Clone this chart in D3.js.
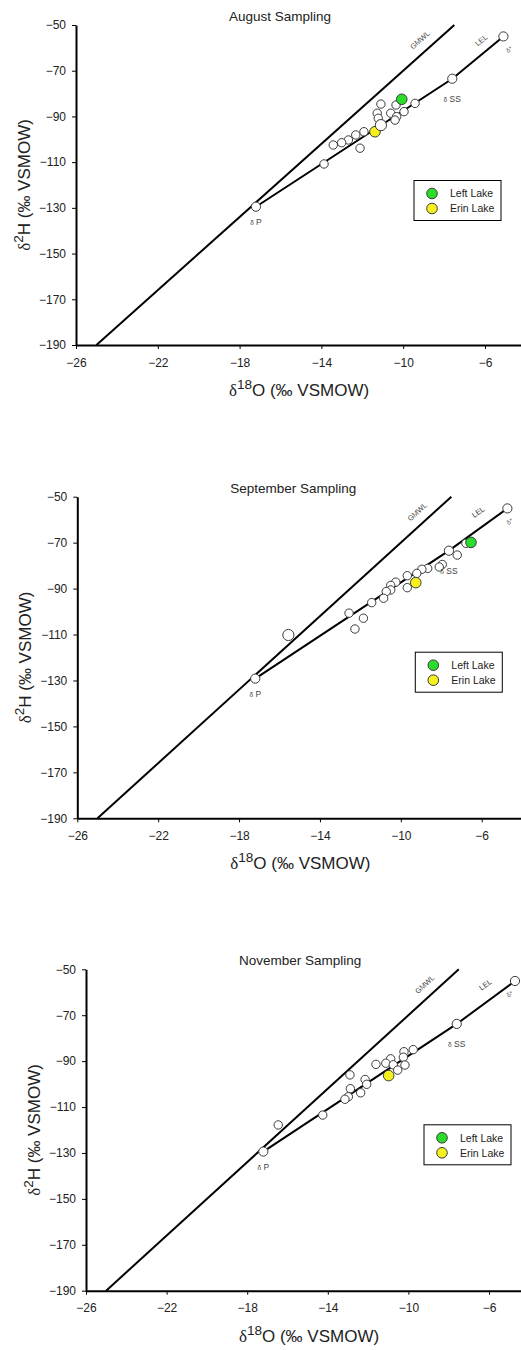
<!DOCTYPE html>
<html>
<head>
<meta charset="utf-8">
<script src="https://cdn.jsdelivr.net/npm/d3@7"></script>
<style>
  body { margin: 0; background: #fff; }
  svg { display: block; font-family: Arial, "Liberation Sans", sans-serif; }
</style>
</head>
<body>
<div id="chart"></div>
<script>
// all pairs are [δ18O, δ2H] in ‰ VSMOW
const xTicks = [-26, -22, -18, -14, -10, -6];
const yTicks = [-50, -70, -90, -110, -130, -150, -170, -190];
const xDomain = [-26, -4];
const yDomain = [-190, -50];

// global meteoric water line δ2H = 8 δ18O + 10
const gmwlSlope = 8;
const gmwlIntercept = 10;
const gmwlRange = [-25, -7.5];

const titles = ["August Sampling", "September Sampling", "November Sampling"];
const legendNames = ["Left Lake", "Erin Lake"];
const legendColors = ["#2bdc2b", "#f5f01e"];

const augSamples = [[-11.09, -84.6], [-9.42, -84.3], [-10.35, -85.0], [-9.96, -87.9], [-11.27, -88.6],
  [-10.61, -88.6], [-10.32, -90.1], [-11.22, -90.8], [-10.40, -91.6], [-11.92, -96.7], [-12.32, -98.1],
  [-12.68, -100.3], [-13.01, -101.5], [-13.42, -102.5], [-12.11, -103.9], [-13.87, -110.8]];
const augLarge = [[-11.09, -93.8]];
const augLeftLake = [[-10.07, -82.5]];
const augErinLake = [[-11.38, -96.7]];
const augEnds = { P: [-17.2, -129.5], SS: [-7.6, -73.5], star: [-5.1, -55.0] };

const sepSamples = [[-6.78, -70.3], [-7.21, -75.4], [-7.95, -79.5], [-8.10, -80.6], [-8.67, -81.2],
  [-8.96, -81.6], [-9.21, -83.4], [-9.68, -84.4], [-9.68, -89.6], [-10.25, -87.2], [-10.50, -88.6],
  [-10.50, -90.6], [-10.72, -91.3], [-10.85, -94.2], [-11.44, -96.1], [-12.56, -100.7], [-11.85, -102.9],
  [-12.27, -107.6]];
const sepLarge = [[-15.56, -110.2]];
const sepLeftLake = [[-6.53, -69.9]];
const sepErinLake = [[-9.26, -87.4]];
const sepEnds = { P: [-17.2, -129.2], SS: [-7.62, -73.5], star: [-4.73, -55.1] };

const novSamples = [[-9.76, -85.0], [-10.22, -85.9], [-10.25, -88.3], [-10.88, -89.0], [-11.12, -90.9],
  [-11.61, -91.4], [-10.75, -91.6], [-10.17, -91.7], [-10.53, -93.9], [-12.90, -96.0], [-12.15, -98.0],
  [-12.07, -100.1], [-12.88, -102.0], [-12.37, -103.8], [-12.98, -105.5], [-13.15, -106.6],
  [-14.25, -113.5], [-16.46, -117.8]];
const novLarge = [];
const novLeftLake = [];
const novErinLake = [[-10.98, -96.3]];
const novEnds = { P: [-17.2, -129.4], SS: [-7.6, -73.8], star: [-4.71, -55.1] };

// text anchors for the line labels (data coords)
const gmwlLabelAt = [-9.1, -57.4];
const lelLabelAt = [-6.1, -57.6];

const panels = [
  { title: titles[0], samples: augSamples, large: augLarge, left: augLeftLake, erin: augErinLake, ends: augEnds },
  { title: titles[1], samples: sepSamples, large: sepLarge, left: sepLeftLake, erin: sepErinLake, ends: sepEnds },
  { title: titles[2], samples: novSamples, large: novLarge, left: novLeftLake, erin: novErinLake, ends: novEnds }
];

// pixel frame of each panel
const layout = [
  { top: 25, bottom: 345, left: 76, unit: 20.45 },
  { top: 496.7, bottom: 818.3, left: 77.3, unit: 20.22 },
  { top: 969.3, bottom: 1290.7, left: 86, unit: 20.15 }
];

const width = 521, height = 1350;
const svg = d3.select("#chart").append("svg")
  .attr("width", width)
  .attr("height", height);

const lineGen = (x, y) => d3.line().x(d => x(d[0])).y(d => y(d[1]));

function isoLabel(sel, sup, letter) {
  sel.append("tspan").attr("font-family", "'Liberation Serif', 'DejaVu Serif', serif").text("δ");
  sel.append("tspan").attr("font-size", "0.8em").attr("dy", -7).text(sup);
  sel.append("tspan").attr("dy", 7).text(letter + " (‰ VSMOW)");
}

panels.forEach((p, i) => {
  const L = layout[i];
  const g = svg.append("g");

  const x = d3.scaleLinear()
    .domain(xDomain)
    .range([L.left, L.left + (xDomain[1] - xDomain[0]) * L.unit]);
  const y = d3.scaleLinear()
    .domain(yDomain)
    .range([L.bottom, L.top]);

  // axes
  const xAxis = g.append("g")
    .attr("transform", `translate(0,${L.bottom})`)
    .call(d3.axisBottom(x).tickValues(xTicks).tickSize(4).tickSizeOuter(0).tickPadding(9));
  const yAxis = g.append("g")
    .attr("transform", `translate(${L.left},0)`)
    .call(d3.axisLeft(y).tickValues(yTicks).tickSize(4).tickSizeOuter(0).tickPadding(6));
  [xAxis, yAxis].forEach(a => {
    a.select(".domain").attr("stroke", "#000").attr("stroke-width", 2);
    a.selectAll(".tick line").attr("stroke", "#000").attr("stroke-width", 1);
    a.selectAll(".tick text").attr("fill", "#222").style("font-size", "12px")
      .style("font-family", "Arial, 'Liberation Sans', sans-serif");
  });

  // title
  g.append("text")
    .attr("x", L.left + 153)
    .attr("y", L.top - 4)
    .attr("fill", "#222")
    .style("font-size", "13.5px")
    .text(p.title);

  // axis titles
  const xl = g.append("text")
    .attr("x", L.left + 223)
    .attr("y", L.bottom + 51)
    .attr("text-anchor", "middle")
    .attr("fill", "#222")
    .style("font-size", "17px");
  isoLabel(xl, "18", "O");

  const yl = g.append("text")
    .attr("transform", `translate(${L.left - 46},${(L.top + L.bottom) / 2}) rotate(-90)`)
    .attr("text-anchor", "middle")
    .attr("fill", "#222")
    .style("font-size", "17px");
  isoLabel(yl, "2", "H");

  // GMWL
  const gmwl = gmwlRange.map(v => [v, gmwlSlope * v + gmwlIntercept]);
  g.append("path")
    .datum(gmwl)
    .attr("fill", "none")
    .attr("stroke", "#000")
    .attr("stroke-width", 2)
    .attr("d", lineGen(x, y));

  // LEL through δP, δSS, δ*
  const lel = [p.ends.P, p.ends.SS, p.ends.star];
  g.append("path")
    .datum(lel)
    .attr("fill", "none")
    .attr("stroke", "#000")
    .attr("stroke-width", 2)
    .attr("d", lineGen(x, y));

  const angle = (a, b) => Math.atan2(y(b[1]) - y(a[1]), x(b[0]) - x(a[0])) * 180 / Math.PI;
  g.append("text")
    .attr("transform", `translate(${x(gmwlLabelAt[0])},${y(gmwlLabelAt[1])}) rotate(${angle(gmwl[0], gmwl[1])})`)
    .attr("text-anchor", "middle")
    .attr("fill", "#444")
    .style("font-size", "7.5px")
    .text("GMWL");
  g.append("text")
    .attr("transform", `translate(${x(lelLabelAt[0])},${y(lelLabelAt[1])}) rotate(${angle(p.ends.SS, p.ends.star)})`)
    .attr("text-anchor", "middle")
    .attr("fill", "#444")
    .style("font-size", "7.5px")
    .text("LEL");

  // points
  const dot = (data, r, fill) => g.append("g")
    .selectAll("circle")
    .data(data)
    .join("circle")
    .attr("cx", d => x(d[0]))
    .attr("cy", d => y(d[1]))
    .attr("r", r)
    .attr("fill", fill)
    .attr("stroke", "#3a3a3a")
    .attr("stroke-width", 1);

  dot(p.samples, 4.2, "#fff");
  dot(p.left, 5.3, legendColors[0]);
  dot(p.erin, 5.3, legendColors[1]);
  dot(p.large, 5.6, "#fff");
  dot([p.ends.P, p.ends.SS, p.ends.star], 4.6, "#fff");

  // end-member labels
  const endLabel = (pt, dx, dy, main, size) => {
    const t = g.append("text")
      .attr("x", x(pt[0]) + dx)
      .attr("y", y(pt[1]) + dy)
      .attr("text-anchor", "middle")
      .attr("fill", "#444")
      .style("font-size", size + "px");
    t.append("tspan").style("font-size", (size - 2) + "px").text("δ");
    t.append("tspan").text(main);
  };
  endLabel(p.ends.P, 0, 18, " P", 8.5);
  endLabel(p.ends.SS, 0, 23, " SS", 8.5);
  const starX = Math.min(x(p.ends.star[0]) + 7, 511);
  g.append("text")
    .attr("transform", `translate(${starX},${y(p.ends.star[1]) + 15}) rotate(-35)`)
    .attr("text-anchor", "middle")
    .attr("fill", "#555")
    .style("font-size", "6.5px")
    .text("δ*");

  // legend
  const lx = L.left + 338, ly = L.top + 155.5;
  const lg = g.append("g").attr("transform", `translate(${lx},${ly})`);
  lg.append("rect")
    .attr("width", 87)
    .attr("height", 40)
    .attr("fill", "#fff")
    .attr("stroke", "#000")
    .attr("stroke-width", 1);
  legendNames.forEach((name, k) => {
    lg.append("circle")
      .attr("cx", 18)
      .attr("cy", 13 + k * 15)
      .attr("r", 5.3)
      .attr("fill", legendColors[k])
      .attr("stroke", "#3a3a3a");
    lg.append("text")
      .attr("x", 36)
      .attr("y", 13 + k * 15 + 3.8)
      .attr("fill", "#222")
      .style("font-size", "10.5px")
      .text(name);
  });
});
</script>
</body>
</html>
